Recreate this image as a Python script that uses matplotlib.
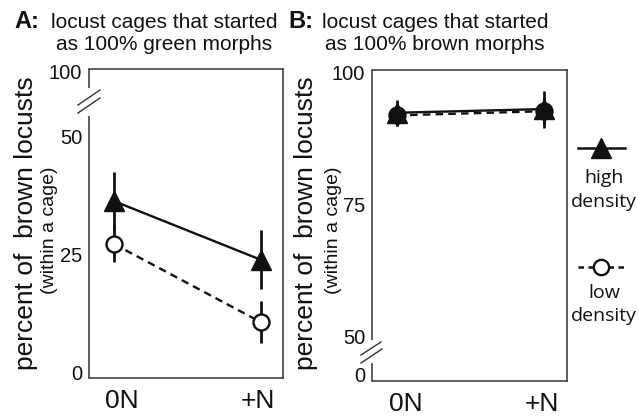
import numpy as np
import matplotlib
matplotlib.use("Agg")
import matplotlib.pyplot as plt
from matplotlib.transforms import ScaledTranslation

# ---------------- data ----------------
categories = ["0N", "+N"]
a_high = [36.4, 24.0]
a_high_err = [6.2, 6.2]
a_low = [27.3, 10.8]
a_low_err = [3.8, 4.5]
b_high = [92.3, 93.0]
b_high_err = [2.5, 3.5]
b_low = [91.8, 92.6]
b_low_err = [2.0, 2.5]
a_ticks = [0, 25, 50, 100]
b_ticks = [0, 50, 75, 100]
titles = ["locust cages that started\nas 100% green morphs",
          "locust cages that started\nas 100% brown morphs"]
panel_letters = ["A:", "B:"]

# ---------------- figure ----------------
W, H = 638, 417
fig = plt.figure(figsize=(W / 100, H / 100), dpi=100)
plt.rcParams['font.family'] = ['Liberation Sans', 'DejaVu Sans']
INK = '#111111'


def px_rect(l, t, r, b):
    return [l / W, 1 - b / H, (r - l) / W, (b - t) / H]


kA = 0.2754
def fA(v):
    v = np.asarray(v, float)
    return np.where(v <= 50, v, 50 + (v - 50) * kA)
def iA(u):
    u = np.asarray(u, float)
    return np.where(u <= 50, u, 50 + (u - 50) / kA)

kB = 0.1477
def fB(v):
    v = np.asarray(v, float)
    return np.where(v <= 50, v * kB, 50 * kB + (v - 50))
def iB(u):
    u = np.asarray(u, float)
    return np.where(u <= 50 * kB, u / kB, 50 + (u - 50 * kB))


def setup(ax, box, ticks, ylim, fwd, inv, spine_gap, slashes):
    l, t, r, b = box
    ax.set_yscale('function', functions=(fwd, inv))
    ax.set_ylim(*ylim)
    ax.set_xlim(-0.172, 1.153)
    x = np.arange(len(categories))
    ax.set_xticks(x)
    ax.set_xticklabels(categories, fontsize=19)
    ax.set_yticks(ticks)
    ax.set_yticklabels([str(v) for v in ticks], fontsize=14.5)
    ax.tick_params(axis='y', length=0, pad=5, colors=INK)
    ax.tick_params(axis='x', length=0, pad=8, colors=INK)
    ax.minorticks_off()
    shifts = [8, -3]
    for lab, dx in zip(ax.get_xticklabels(), shifts):
        lab.set_transform(lab.get_transform() +
                          ScaledTranslation(dx / 100, 0, fig.dpi_scale_trans))
    ax.spines['left'].set_visible(False)
    for s in ['top', 'right', 'bottom']:
        ax.spines[s].set_linewidth(1.1)
        ax.spines[s].set_color('#333333')
    hgt = b - t
    wid = r - l
    def fy(py):
        return (b - py) / hgt
    def fx(px):
        return (px - l) / wid
    g0, g1 = spine_gap
    for y0, y1 in [(0, fy(g1)), (fy(g0), 1)]:
        ax.plot([0, 0], [y0, y1], transform=ax.transAxes, color='#333333',
                lw=1.1, clip_on=False, solid_capstyle='butt')
    for (x0, y0, x1, y1) in slashes:
        ax.plot([fx(x0), fx(x1)], [fy(y0), fy(y1)], transform=ax.transAxes,
                color='#333333', lw=1.0, clip_on=False)


def draw(ax, high, high_err, low, low_err, low_fill='white'):
    x = np.arange(len(categories))
    ax.errorbar(x, low, yerr=low_err, fmt='none', ecolor=INK, elinewidth=2.0,
                capsize=0, zorder=2)
    ax.errorbar(x, high, yerr=high_err, fmt='none', ecolor=INK, elinewidth=2.0,
                capsize=0, zorder=2)
    ax.plot(x, low, ls=(0, (3.2, 2.2)), color=INK, lw=1.7, zorder=3)
    ax.plot(x, high, ls='-', color=INK, lw=1.7, zorder=3)
    ax.plot(x, low, ls='none', marker='o', ms=11.5, mfc=low_fill, mec=INK,
            mew=1.7, zorder=4)
    ax.plot(x, high, ls='none', marker='^', ms=14, mfc=INK, mec=INK,
            mew=1.0, zorder=5)


# Panel A
boxA = (89, 69, 283, 378)
axA = fig.add_axes(px_rect(*boxA))
setup(axA, boxA, a_ticks, (-1.06, 102.3), fA, iA, (88, 116),
      [(78, 105, 100, 90), (78, 113, 100, 98)])
draw(axA, a_high, a_high_err, a_low, a_low_err)

# Panel B
boxB = (372, 70, 567, 381)
axB = fig.add_axes(px_rect(*boxB))
setup(axB, boxB, b_ticks, (-7.7, 100.4), fB, iB, (340, 363),
      [(361, 355, 381, 342), (361, 363, 382, 349)])
draw(axB, b_high, b_high_err, b_low, b_low_err, low_fill=INK)

# Titles
for letter, title, lx, cx in [(panel_letters[0], titles[0], 14, 164),
                              (panel_letters[1], titles[1], 288, 435)]:
    fig.text(lx / W, 1 - 21 / H, letter, fontsize=17, fontweight='bold',
             ha='left', va='center', color=INK)
    fig.text(cx / W, 1 - 33.5 / H, title, fontsize=15, ha='center',
             va='center', color=INK, linespacing=1.22)

# Y labels
for mx, sx in [(26, 49), (306, 333)]:
    fig.text(mx / W, 1 - 223 / H, "percent of  brown locusts", rotation=90,
             fontsize=19, ha='center', va='center', color=INK)
    fig.text(sx / W, 1 - 230 / H, "(within a cage)", rotation=90,
             fontsize=14, ha='center', va='center', color=INK)

# Legend (manual, right side)
axL = fig.add_axes(px_rect(570, 120, 638, 340))
axL.set_xlim(570, 638)
axL.set_ylim(340, 120)
axL.axis('off')
axL.plot([578, 625], [148, 148], color=INK, lw=1.8, clip_on=False)
axL.plot([601], [148], marker='^', ms=14, mfc=INK, mec=INK, clip_on=False)
axL.plot([578, 625], [267, 267], color=INK, lw=1.8, ls=(0, (2.2, 1.8)),
         clip_on=False)
axL.plot([601], [267], marker='o', ms=11, mfc='white', mec=INK, mew=1.7,
         clip_on=False)
for txt, y in [("high", 178), ("density", 202), ("low", 293), ("density", 316)]:
    axL.text(604, y, txt, fontsize=14, ha='center', va='center', color=INK,
             family=['Open Sans', 'DejaVu Sans'])

fig.savefig("out.png", dpi=100)
